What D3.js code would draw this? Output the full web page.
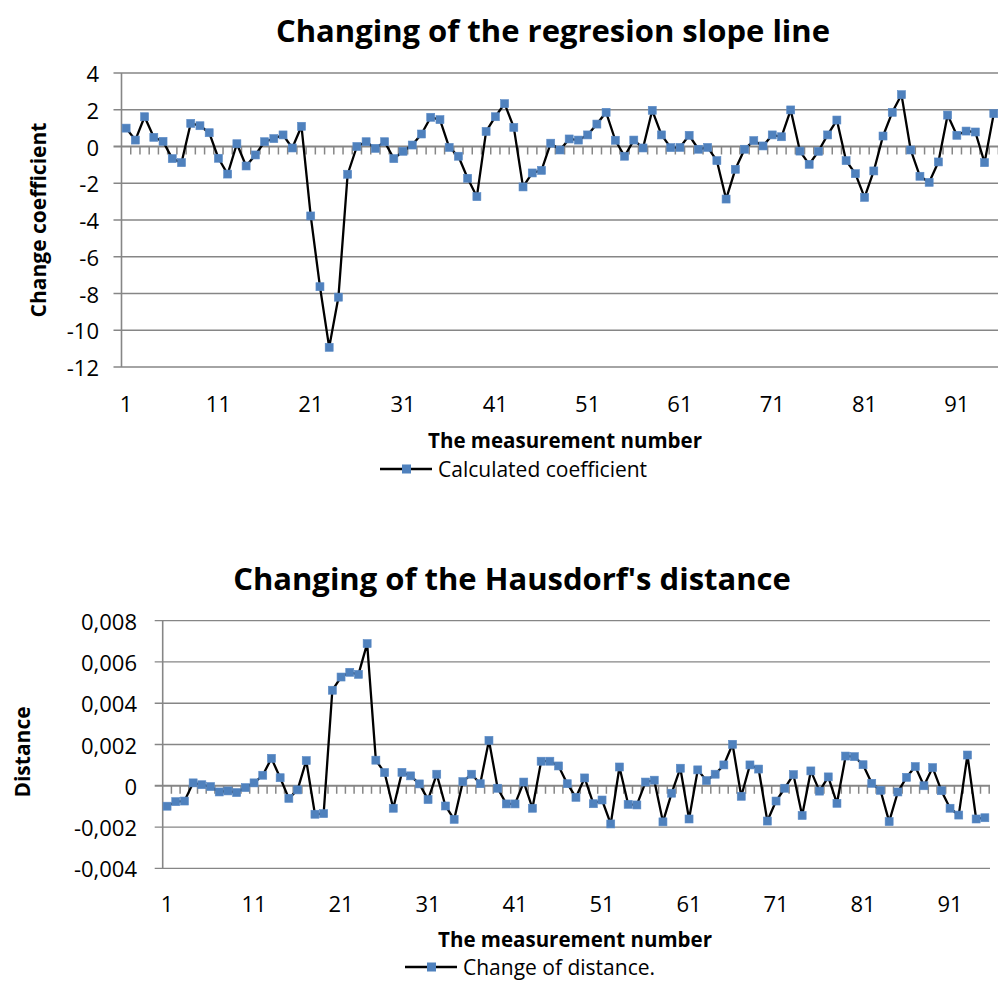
<!DOCTYPE html>
<html><head><meta charset="utf-8">
<script src="https://cdn.jsdelivr.net/npm/d3@7"></script>
<style>body{margin:0;background:#fff;} svg{display:block;} text{font-family:"Open Sans",sans-serif;fill:#000;}</style>
</head><body>
<svg id="c" width="998" height="982"></svg>
<script>
const categories = d3.range(1, 96);
const xTickLabels = ["1","11","21","31","41","51","61","71","81","91"];
const coefficient = [1.0,0.35,1.62,0.5,0.28,-0.66,-0.88,1.26,1.13,0.75,-0.64,-1.5,0.15,-1.06,-0.46,0.26,0.43,0.63,-0.08,1.1,
 -3.78,-7.63,-10.93,-8.2,-1.51,0.0,0.26,-0.1,0.26,-0.66,-0.26,0.08,0.68,1.59,1.46,-0.05,-0.53,-1.73,-2.73,0.82,
 1.62,2.33,1.04,-2.2,-1.44,-1.3,0.18,-0.19,0.41,0.35,0.63,1.22,1.86,0.34,-0.53,0.35,-0.08,1.97,0.63,-0.06,
 -0.05,0.61,-0.15,-0.05,-0.77,-2.86,-1.24,-0.15,0.32,0.03,0.63,0.53,1.99,-0.25,-0.97,-0.26,0.63,1.44,-0.77,-1.48,
 -2.77,-1.33,0.57,1.86,2.82,-0.19,-1.62,-1.95,-0.84,1.71,0.61,0.84,0.79,-0.88,1.79];
const coefTicks = [4,2,0,-2,-4,-6,-8,-10,-12];
const distance = [-0.00099,-0.00077,-0.00074,0.00014,0.00005,-0.00004,-0.0003,-0.00025,-0.00033,-0.00009,
 0.00014,0.00051,0.00133,0.00039,-0.00061,-0.0002,0.00122,-0.00138,-0.00135,0.00463,
 0.00527,0.0055,0.0054,0.00689,0.00124,0.00064,-0.00109,0.00065,0.00048,0.00009,
 -0.00067,0.00056,-0.00098,-0.00163,0.0002,0.00056,0.0001,0.0022,-0.00012,-0.00088,
 -0.00088,0.00018,-0.00109,0.00119,0.00119,0.00096,0.0001,-0.00056,0.00038,-0.00087,
 -0.00069,-0.00185,0.00091,-0.0009,-0.00093,0.00018,0.00027,-0.00175,-0.00036,0.00085,
 -0.00161,0.00077,0.00025,0.00056,0.00101,0.00201,-0.00051,0.00101,0.00081,-0.00171,
 -0.00074,-0.00012,0.00054,-0.00144,0.00072,-0.00026,0.00043,-0.00085,0.00144,0.00141,
 0.00102,0.00012,-0.00022,-0.00174,-0.0003,0.00041,0.00093,0.0,0.00088,-0.00024,
 -0.00109,-0.00142,0.00149,-0.00161,-0.00155];
const distTicks = [0.008,0.006,0.004,0.002,0,-0.002,-0.004];
const distTickLabels = ["0,008","0,006","0,004","0,002","0","-0,002","-0,004"];

const svg = d3.select("#c");
const GRID = "#868686", BLUE = "#4F81BD";

function drawChart(cfg) {
  const g = svg.append("g");
  const x = d3.scaleBand().domain(categories).range([cfg.x0, cfg.x1]).paddingInner(0).paddingOuter(0);
  const y = d3.scaleLinear().domain(cfg.domain).range([cfg.yBottom, cfg.yTop]);
  g.selectAll("line.grid").data(cfg.ticks.filter(t => t !== 0)).join("line")
    .attr("x1", cfg.x0 - 8).attr("x2", cfg.gridEnd)
    .attr("y1", d => y(d)).attr("y2", d => y(d))
    .attr("stroke", GRID).attr("stroke-width", 1.3);
  g.append("line").attr("x1", cfg.x0).attr("x2", cfg.x0)
    .attr("y1", cfg.yTop).attr("y2", cfg.yBottom).attr("stroke", GRID).attr("stroke-width", 1.6);
  g.append("line").attr("x1", cfg.x0 - 8).attr("x2", cfg.gridEnd)
    .attr("y1", y(0)).attr("y2", y(0)).attr("stroke", GRID).attr("stroke-width", 2.2);
  g.selectAll("line.ct").data(categories).join("line")
    .attr("x1", d => x(d) + x.bandwidth()).attr("x2", d => x(d) + x.bandwidth())
    .attr("y1", y(0)).attr("y2", y(0) + 8).attr("stroke", GRID).attr("stroke-width", 1.5);
  g.selectAll("text.yt").data(cfg.ticks).join("text")
    .attr("x", cfg.yLabelRight).attr("y", d => y(d)).attr("text-anchor", "end")
    .attr("dominant-baseline", "central").attr("font-size", 22)
    .text((d, i) => cfg.tickLabels[i]);
  g.selectAll("text.xt").data(xTickLabels).join("text")
    .attr("x", d => x(+d) + x.bandwidth() / 2).attr("y", cfg.xLabelY)
    .attr("text-anchor", "middle").attr("dominant-baseline", "central")
    .attr("font-size", 22).text(d => d);
  const line = d3.line().x((d, i) => x(categories[i]) + x.bandwidth() / 2).y(d => y(d));
  g.append("path").datum(cfg.values).attr("d", line).attr("fill", "none")
    .attr("stroke", "#000").attr("stroke-width", 2.3).attr("stroke-linejoin", "round");
  g.selectAll("rect.m").data(cfg.values).join("rect")
    .attr("x", (d, i) => x(categories[i]) + x.bandwidth() / 2 - 4)
    .attr("y", d => y(d) - 4).attr("width", 8).attr("height", 8)
    .attr("fill", BLUE).attr("stroke", "#5A8AC6").attr("stroke-width", 0.6);
  g.append("text").attr("x", cfg.titleX).attr("y", cfg.titleY).attr("text-anchor", "middle")
    .attr("dominant-baseline", "central").attr("font-size", 31).attr("font-weight", "bold").text(cfg.title);
  g.append("text").attr("transform", `translate(${cfg.yTitleX},${cfg.yTitleY}) rotate(-90)`)
    .attr("text-anchor", "middle").attr("dominant-baseline", "central")
    .attr("font-size", 21).attr("font-weight", "bold").text(cfg.yTitle);
  g.append("text").attr("x", cfg.xTitleX).attr("y", cfg.xTitleY).attr("text-anchor", "middle")
    .attr("dominant-baseline", "central").attr("font-size", 20.5).attr("font-weight", "bold")
    .text("The measurement number");
  const lx = cfg.legendX, ly = cfg.legendY;
  g.append("line").attr("x1", lx).attr("x2", lx + 52).attr("y1", ly).attr("y2", ly)
    .attr("stroke", "#000").attr("stroke-width", 2.5);
  g.append("rect").attr("x", lx + 22).attr("y", ly - 4.5).attr("width", 9).attr("height", 9).attr("fill", BLUE);
  g.append("text").attr("x", lx + 58).attr("y", ly).attr("dominant-baseline", "central")
    .attr("font-size", 21).text(cfg.legend);
}

drawChart({
  values: coefficient, domain: [-12, 4], ticks: coefTicks, tickLabels: coefTicks.map(String),
  x0: 121.5, x1: 998.4, gridEnd: 998, yTop: 73, yBottom: 367, xLabelY: 403, yLabelRight: 99,
  title: "Changing of the regresion slope line", titleX: 553, titleY: 30,
  yTitle: "Change coefficient", yTitleX: 38, yTitleY: 220,
  xTitleX: 565, xTitleY: 440, legend: "Calculated coefficient", legendX: 380, legendY: 469
});
drawChart({
  values: distance, domain: [-0.004, 0.008], ticks: distTicks, tickLabels: distTickLabels,
  x0: 162.7, x1: 989.2, gridEnd: 990, yTop: 620.7, yBottom: 868.3, xLabelY: 903, yLabelRight: 137,
  title: "Changing of the Hausdorf's distance", titleX: 512, titleY: 578,
  yTitle: "Distance", yTitleX: 22, yTitleY: 752,
  xTitleX: 575, xTitleY: 939, legend: "Change of distance.", legendX: 405, legendY: 967
});
</script>
</body></html>
